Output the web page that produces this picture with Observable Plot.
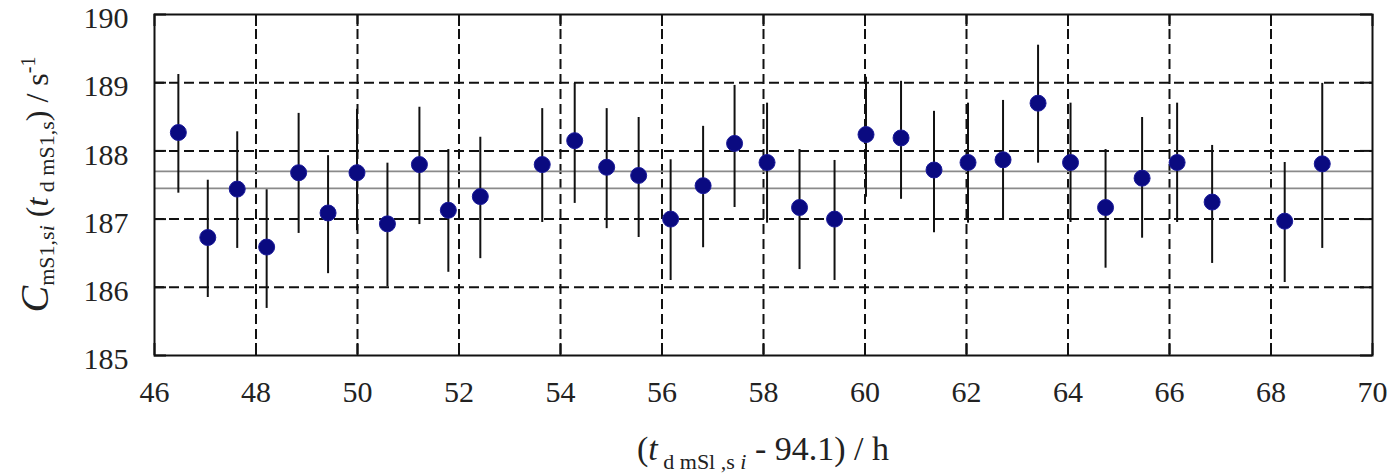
<!DOCTYPE html>
<html>
<head>
<meta charset="utf-8">
<script src="https://cdn.jsdelivr.net/npm/d3@7"></script>
<script src="https://cdn.jsdelivr.net/npm/@observablehq/plot@0.6"></script>
<style>
  html, body { margin: 0; padding: 0; background: #fff; }
</style>
</head>
<body>
<div id="chart"></div>
<script>
// Measurement times (t - 94.1) / h
const times = [46.47, 47.05, 47.63, 48.21, 48.84, 49.42, 49.99, 50.59, 51.22, 51.79, 52.42,
  53.64, 54.28, 54.91, 55.54, 56.17, 56.81, 57.43, 58.07, 58.71, 59.40, 60.02, 60.71,
  61.36, 62.03, 62.72, 63.41, 64.05, 64.74, 65.46, 66.15, 66.84, 68.27, 69.01];
// Count rate values / s^-1
const rates = [188.27, 186.73, 187.44, 186.59, 187.68, 187.09, 187.68, 186.93, 187.80, 187.13, 187.33,
  187.80, 188.15, 187.76, 187.64, 187.00, 187.49, 188.11, 187.83, 187.17, 187.00, 188.24, 188.19,
  187.72, 187.83, 187.87, 188.70, 187.83, 187.17, 187.60, 187.83, 187.25, 186.97, 187.81];
// Error bar lower and upper ends
const lows = [187.38, 185.85, 186.57, 185.69, 186.79, 186.20, 186.83, 186.01, 186.92, 186.22, 186.42,
  186.95, 187.23, 186.86, 186.73, 186.10, 186.58, 187.17, 186.94, 186.26, 186.10, 187.32, 187.29,
  186.80, 186.94, 186.98, 187.82, 186.95, 186.28, 186.72, 186.95, 186.35, 186.07, 186.57];
const highs = [189.12, 187.57, 188.28, 187.43, 188.55, 187.93, 188.61, 187.82, 188.64, 188.02, 188.20,
  188.62, 188.99, 188.62, 188.49, 187.87, 188.36, 188.96, 188.70, 188.02, 187.86, 189.08, 189.02,
  188.58, 188.70, 188.74, 189.55, 188.70, 188.02, 188.49, 188.70, 188.08, 187.83, 188.99];
// Reference (mean +/- band) lines
const refLines = [187.70, 187.45];
// Tick values
const xTicks = [46, 48, 50, 52, 54, 56, 58, 60, 62, 64, 66, 68, 70];
const yTicks = [185, 186, 187, 188, 189, 190];
const xGrid = [48, 50, 52, 54, 56, 58, 60, 62, 64, 66, 68];
const yGrid = [186, 187, 188, 189];

const data = times.map((t, i) => ({t, c: rates[i], lo: lows[i], hi: highs[i]}));

const W = 1392, H = 474;
const mL = 154, mR = 20, mT = 14, mB = 119;
const plotH = H - mT - mB;
const plotW = W - mL - mR;
const tickLen = 12;
const serif = "Liberation Serif";

const plot = Plot.plot({
  width: W,
  height: H,
  marginLeft: mL,
  marginRight: mR,
  marginTop: mT,
  marginBottom: mB,
  style: {fontFamily: serif, fontSize: "30px"},
  x: {domain: [46, 70], axis: null},
  y: {domain: [185, 190], axis: null},
  marks: [
    Plot.ruleX(xGrid, {x: d => d, stroke: "#111", strokeWidth: 2, strokeDasharray: "10,5"}),
    Plot.ruleY(yGrid, {y: d => d, stroke: "#111", strokeWidth: 2, strokeDasharray: "10,5"}),
    Plot.ruleY(refLines, {y: d => d, stroke: "#8a8a8a", strokeWidth: 1.6}),
    Plot.tickX(xTicks, {x: d => d, stroke: "#111", strokeWidth: 2, insetTop: plotH - tickLen}),
    Plot.tickX(xTicks, {x: d => d, stroke: "#111", strokeWidth: 2, insetBottom: plotH - tickLen}),
    Plot.tickY(yTicks, {y: d => d, stroke: "#111", strokeWidth: 2, insetRight: plotW - tickLen}),
    Plot.tickY(yTicks, {y: d => d, stroke: "#111", strokeWidth: 2, insetLeft: plotW - tickLen}),
    Plot.ruleX(data, {x: "t", y1: "lo", y2: "hi", stroke: "#111", strokeWidth: 2}),
    Plot.dot(data, {x: "t", y: "c", r: 8, fill: "#0a0a80", stroke: "#1a1a9a", strokeWidth: 1}),
    Plot.frame({stroke: "#111", strokeWidth: 2}),
    // tick labels drawn through the x / y scales
    Plot.text(xTicks, {x: d => d, text: d => String(d), frameAnchor: "bottom", lineAnchor: "middle",
      dy: 37, fontSize: 30, fontFamily: serif, fill: "#222"}),
    Plot.text(yTicks, {y: d => d, text: d => String(d), frameAnchor: "left", textAnchor: "end",
      lineAnchor: "middle", dx: -26, dy: 4, fontSize: 30, fontFamily: serif, fill: "#222"})
  ]
});

document.getElementById("chart").appendChild(plot);

const svg = d3.select(plot);
const xs = (mL + W - mR) / 2;

// X axis label
const xl = svg.append("text")
  .attr("x", xs)
  .attr("y", 460)
  .attr("text-anchor", "middle")
  .attr("font-family", serif)
  .attr("fill", "#222")
  .style("font-size", "34px");
xl.append("tspan").text("(");
xl.append("tspan").attr("font-style", "italic").text("t");
xl.append("tspan").attr("dy", 9).style("font-size", "22px").text(" d mSl ,s ");
xl.append("tspan").style("font-size", "22px").attr("font-style", "italic").text("i");
xl.append("tspan").attr("dy", -9).text(" - 94.1) / h");

// Y axis label
const yl = svg.append("text")
  .attr("transform", `translate(48,${(mT + H - mB) / 2}) rotate(-90)`)
  .attr("text-anchor", "middle")
  .attr("font-family", serif)
  .attr("fill", "#222")
  .style("font-size", "32px");
yl.append("tspan").attr("font-style", "italic").style("font-size", "40px").text("C");
yl.append("tspan").attr("dy", 6).style("font-size", "22px").text("mS1,s");
yl.append("tspan").attr("font-style", "italic").style("font-size", "22px").text("i");
yl.append("tspan").attr("dy", -6).text(" (");
yl.append("tspan").attr("font-style", "italic").text("t");
yl.append("tspan").attr("dy", 6).style("font-size", "22px").text(" d mS1,s");
yl.append("tspan").attr("dy", -6).text(") / s");
yl.append("tspan").attr("dy", -13).style("font-size", "20px").text("-1");
</script>
</body>
</html>
